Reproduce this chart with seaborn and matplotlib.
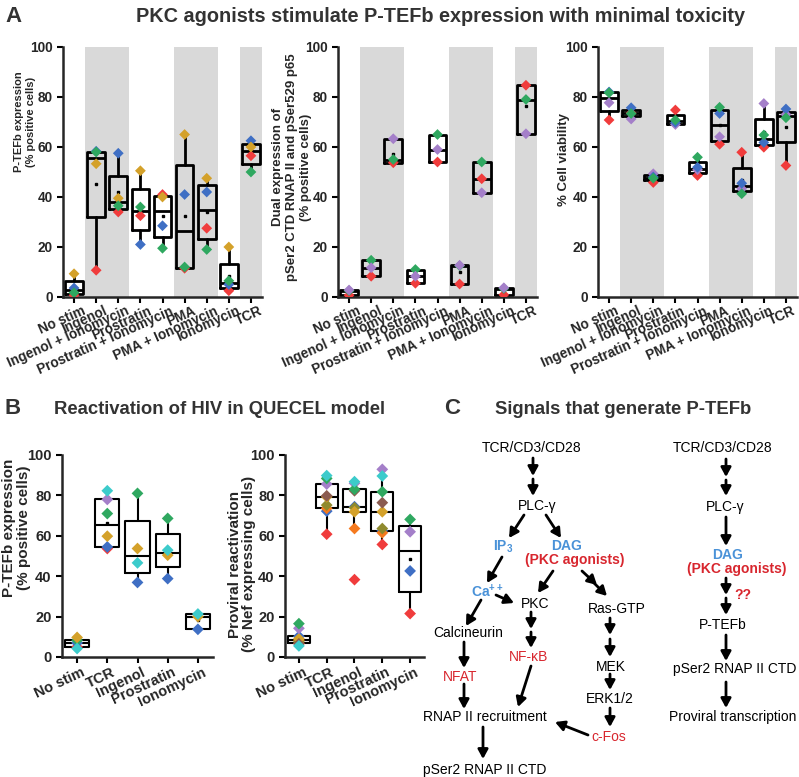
import numpy as np
import pandas as pd
import matplotlib
matplotlib.use("Agg")
import matplotlib.pyplot as plt
import matplotlib.transforms as mtransforms
import seaborn as sns

nan = np.nan

# ---------------- panel A: Jurkat / primary cell screens ----------------
stims_a = ['No stim', 'Ingenol', 'Ingenol + Ionomycin', 'Prostratin',
           'Prostratin + Ionomycin', 'PMA', 'PMA + Ionomycin', 'Ionomycin', 'TCR']

# P-TEFb expression (% positive cells)
ptefb_red = [0.7, 10.7, 34.0, 32.5, 41.0, 11.5, 27.5, 2.5, 56.5]
ptefb_blue = [3.6, 58.3, 57.5, 21.0, 28.5, 41.0, 42.0, 5.0, 62.5]
ptefb_gold = [9.3, 53.3, 39.5, 50.5, 40.0, 65.0, 47.5, 20.0, 60.0]
ptefb_green = [1.7, 58.0, 36.5, 36.0, 19.5, 12.0, 19.0, 6.5, 50.0]

# dual pSer2 CTD RNAP II / pSer529 p65 (% positive cells)
dual_red = [0.7, 8.3, 53.7, 5.5, 54.0, 5.2, 47.3, 0.9, 84.7]
dual_green = [2.5, 14.7, 55.0, 11.0, 65.0, 12.5, 54.0, 3.4, 79.0]
dual_purple = [2.8, 11.7, 63.3, 8.3, 59.0, 12.7, 41.7, 3.7, 65.3]

# % cell viability
via_red = [70.8, 73.6, 45.8, 74.8, 48.6, 61.1, 57.9, 59.9, 52.6]
via_purple = [77.7, 71.2, 49.3, 69.0, 50.9, 64.1, 43.3, 77.4, 73.0]
via_blue = [82.0, 75.7, 48.0, 69.8, 51.9, 73.4, 45.5, 61.8, 75.2]
via_green = [81.7, 73.4, 47.5, 70.8, 55.9, 75.9, 41.3, 64.8, 71.7]

# ---------------- panel B: QUECEL model ----------------
stims_b = ['No stim', 'TCR', 'Ingenol', 'Prostratin', 'Ionomycin']

qb_red = [5.0, 53.7, nan, nan, nan]
qb_blue = [7.0, 54.5, 36.9, 38.8, 13.7]
qb_green = [8.3, 71.0, 81.0, 68.6, nan]
qb_purple = [nan, 78.0, nan, nan, nan]
qb_gold = [9.7, 59.8, 53.7, 50.4, 20.0]
qb_cyan = [4.2, 82.3, 46.6, 52.9, 21.3]

prov_red = [6.8, 60.8, 38.3, 55.7, 21.5]
prov_blue = [10.2, 72.2, 74.4, 62.5, 42.6]
prov_orange = [8.3, 73.6, 63.6, 61.5, nan]
prov_olive = [7.5, 75.2, 73.9, 63.6, nan]
prov_gold = [9.0, 79.3, 71.9, 71.9, nan]
prov_brown = [6.5, 79.8, 82.3, 76.4, nan]
prov_purple = [14.2, 85.6, 86.0, 92.9, 62.0]
prov_green = [16.5, 88.4, 83.0, 81.8, 68.1]
prov_cyan = [5.5, 89.8, 86.8, 89.6, nan]

donor_cols = {'gold': '#d4a12a', 'blue': '#3f6fc4', 'green': '#2fa860',
              'red': '#f03c3c', 'purple': '#a47fc9', 'cyan': '#3ccbcb',
              'brown': '#8b5b4f', 'orange': '#f57a1f', 'olive': '#8f8a2e'}
shade_col = '#d9d9d9'
title_col = '#333333'
blue_txt = '#4a92d8'
red_txt = '#d8262e'


def long_df(stims, series):
    rows = []
    for donor, vals in series.items():
        for s, v in zip(stims, vals):
            rows.append((s, donor, v))
    return pd.DataFrame(rows, columns=['stim', 'donor', 'value']).dropna()


def box_stats(vals):
    s = np.sort(vals)
    n = len(s)
    h = n // 2
    if n % 4 == 1:
        lo, hi = s[:h + 1], s[h:]
    else:
        lo, hi = s[:h], s[n - h:]
    q1, med, q3 = np.median(lo), np.median(s), np.median(hi)
    iqr = q3 - q1
    return dict(med=med, q1=q1, q3=q3, mean=s.mean(), fliers=[],
                whislo=s[s >= q1 - 1.5 * iqr].min(),
                whishi=s[s <= q3 + 1.5 * iqr].max())


def box_strip(ax, df, stims, shade=(), box_w=0.8, lw=2.0, msize=5.5,
              tick_fs=9.8, rot=24, shift=7.5, xpad=1):
    for a, b in shade:
        ax.axvspan(a - 0.5, b + 0.5, color=shade_col, lw=0, zorder=0)
    stats = [box_stats(df.loc[df.stim == s, 'value'].to_numpy()) for s in stims]
    line = dict(color='black', lw=lw)
    ax.bxp(stats, positions=range(len(stims)), widths=box_w, showmeans=True,
           showcaps=False, showfliers=False, manage_ticks=False,
           boxprops=line, medianprops=line, whiskerprops=line,
           meanprops=dict(marker='s', markersize=1.6, markerfacecolor='black',
                          markeredgecolor='black'))
    sns.stripplot(data=df, x='stim', y='value', hue='donor', order=stims,
                  palette=donor_cols, marker='D', size=msize, jitter=False,
                  linewidth=0, legend=False, ax=ax, zorder=3)
    ax.set_xlim(-0.5, len(stims) - 0.5)
    ax.set_ylim(0, 100)
    ax.set_yticks([0, 20, 40, 60, 80, 100])
    ax.set_xlabel('')
    sns.despine(ax=ax)
    ax.spines['left'].set_linewidth(1.8)
    ax.spines['bottom'].set_linewidth(1.8)
    ax.tick_params(length=4, width=1.5, color='black')
    ax.tick_params(axis='x', pad=xpad)
    ax.set_xticks(range(len(stims)))
    ax.set_xticklabels(stims, rotation=rot, ha='right', rotation_mode='anchor',
                       fontweight='bold', fontsize=tick_fs)
    # the labels sit a little to the right of their ticks in the original
    off = mtransforms.ScaledTranslation(shift / 100, 0, ax.figure.dpi_scale_trans)
    for t in ax.get_xticklabels():
        t.set_transform(t.get_transform() + off)
    for t in ax.get_yticklabels():
        t.set_fontweight('bold')
        t.set_fontsize(tick_fs)
    ax.patch.set_alpha(0)


sns.set_style('ticks')
plt.rcParams['font.family'] = ['Liberation Sans', 'DejaVu Sans']
plt.rcParams['mathtext.fontset'] = 'custom'
plt.rcParams['mathtext.rm'] = 'Liberation Sans'
plt.rcParams['mathtext.default'] = 'regular'

fig = plt.figure(figsize=(7.99, 7.77), dpi=100)
W, H = 799, 777

# overlay in pixel coordinates for titles and the pathway diagram
ov = fig.add_axes([0, 0, 1, 1])
ov.set_xlim(0, W)
ov.set_ylim(H, 0)
ov.axis('off')


def px_axes(x0, y0, x1, y1):
    return fig.add_axes([x0 / W, 1 - y1 / H, (x1 - x0) / W, (y1 - y0) / H])


# ---------------- panel A ----------------
shade_a = [(1, 2), (5, 6), (8, 8)]
ax1 = px_axes(63, 47, 262, 297)
box_strip(ax1, long_df(stims_a, {'red': ptefb_red, 'blue': ptefb_blue,
                                 'gold': ptefb_gold, 'green': ptefb_green}),
          stims_a, shade_a)
ax1.set_ylabel('P-TEFb expression\n(% positive cells)', fontsize=8,
               fontweight='bold', va='center')
ax1.yaxis.set_label_coords(-0.19, 0.70)

ax2 = px_axes(338, 47, 537, 297)
box_strip(ax2, long_df(stims_a, {'red': dual_red, 'green': dual_green,
                                 'purple': dual_purple}),
          stims_a, shade_a)
ax2.set_ylabel('Dual expression of\npSer2 CTD RNAP II and pSer529 p65\n(% positive cells)',
               fontsize=9.5, fontweight='bold', va='center')
ax2.yaxis.set_label_coords(-0.23, 0.52)

ax3 = px_axes(598, 47, 797, 297)
box_strip(ax3, long_df(stims_a, {'red': via_red, 'purple': via_purple,
                                 'blue': via_blue, 'green': via_green}),
          stims_a, shade_a, shift=6)
ax3.set_ylabel('% Cell viability', fontsize=9.5, fontweight='bold', va='center')
ax3.yaxis.set_label_coords(-0.17, 0.55)

# ---------------- panel B ----------------
ax4 = px_axes(62, 455, 213, 657)
box_strip(ax4, long_df(stims_b, {'red': qb_red, 'blue': qb_blue, 'green': qb_green,
                                 'purple': qb_purple, 'gold': qb_gold, 'cyan': qb_cyan}),
          stims_b, lw=1.5, msize=6, tick_fs=10.5, rot=25, shift=4, xpad=2)
ax4.set_ylabel('P-TEFb expression\n(% positive cells)', fontsize=11,
               fontweight='bold', va='center', linespacing=1.05)
ax4.yaxis.set_label_coords(-0.30, 0.64)

ax5 = px_axes(285, 455, 424, 657)
box_strip(ax5, long_df(stims_b, {'red': prov_red, 'blue': prov_blue,
                                 'orange': prov_orange, 'olive': prov_olive,
                                 'gold': prov_gold, 'brown': prov_brown,
                                 'purple': prov_purple, 'green': prov_green,
                                 'cyan': prov_cyan}),
          stims_b, lw=1.5, msize=6, tick_fs=10.5, rot=25, shift=4, xpad=2)
ax5.set_ylabel('Proviral reactivation\n(% Nef expressing cells)', fontsize=11,
               fontweight='bold', va='center', linespacing=1.05)
ax5.yaxis.set_label_coords(-0.31, 0.46)

# ---------------- titles ----------------
ov.text(5, 16, 'A', fontsize=16, fontweight='bold', color=title_col, va='center')
ov.text(441, 16, 'PKC agonists stimulate P-TEFb expression with minimal toxicity',
        fontsize=14.3, fontweight='bold', color=title_col, ha='center', va='center')
ov.text(5, 408, 'B', fontsize=16, fontweight='bold', color=title_col, va='center')
ov.text(219, 409, 'Reactivation of HIV in QUECEL model', fontsize=13.3,
        fontweight='bold', color=title_col, ha='center', va='center')
ov.text(444, 408, 'C', fontsize=16, fontweight='bold', color=title_col, va='center')
ov.text(623, 409, 'Signals that generate P-TEFb', fontsize=13.3,
        fontweight='bold', color=title_col, ha='center', va='center')


# ---------------- panel C: signalling diagram ----------------
def node(x, y, s, color='black', weight='normal', size=10):
    ov.text(x, y, s, color=color, fontweight=weight, fontsize=size,
            ha='center', va='center')


def arrow(x1, y1, x2, y2):
    ov.annotate('', xy=(x2, y2), xytext=(x1, y1),
                arrowprops=dict(arrowstyle='-|>,head_length=0.55,head_width=0.3',
                                color='black', lw=2, shrinkA=0, shrinkB=0))


node(532, 448, 'TCR/CD3/CD28')
arrow(533, 458, 533, 476)
arrow(533, 479, 533, 496)
node(537, 506, 'PLC-γ')
arrow(524, 515, 509, 538)
arrow(546, 515, 561, 538)
node(503, 547, 'IP$_3$', color=blue_txt, weight='bold')
node(567, 546, 'DAG', color=blue_txt, weight='bold')
node(575, 560, '(PKC agonists)', color=red_txt, weight='bold')
arrow(502, 557, 487, 583)
node(487, 592, 'Ca$^{++}$', color=blue_txt, weight='bold')
arrow(496, 595, 514, 603)
arrow(553, 571, 538, 593)
arrow(582, 571, 597, 585)
arrow(590, 579, 607, 596)
node(535, 604, 'PKC')
node(617, 609, 'Ras-GTP')
arrow(481, 600, 466, 626)
node(468, 633, 'Calcineurin')
arrow(531, 612, 531, 629)
arrow(531, 632, 531, 648)
node(529, 657, 'NF-κB', color=red_txt)
arrow(464, 642, 464, 668)
node(460, 677, 'NFAT', color=red_txt)
arrow(610, 618, 610, 635)
arrow(610, 639, 610, 657)
node(611, 667, 'MEK')
arrow(610, 674, 610, 690)
node(610, 699, 'ERK1/2')
arrow(610, 708, 610, 727)
node(609, 737, 'c-Fos', color=red_txt)
arrow(464, 684, 464, 709)
arrow(531, 666, 518, 707)
arrow(588, 735, 555, 722)
node(485, 717, 'RNAP II recruitment')
arrow(483, 727, 483, 759)
node(485, 770, 'pSer2 RNAP II CTD')

node(723, 448, 'TCR/CD3/CD28')
arrow(726, 459, 726, 477)
arrow(726, 480, 726, 496)
node(725, 507, 'PLC-γ')
arrow(726, 517, 726, 546)
node(728, 555, 'DAG', color=blue_txt, weight='bold')
node(737, 569, '(PKC agonists)', color=red_txt, weight='bold')
arrow(726, 578, 726, 595)
arrow(726, 598, 726, 615)
node(743, 595, '??', color=red_txt, weight='bold')
node(723, 625, 'P-TEFb')
arrow(726, 635, 726, 661)
node(735, 669, 'pSer2 RNAP II CTD')
arrow(726, 682, 726, 708)
node(733, 717, 'Proviral transcription')

fig.savefig('out.png', dpi=100)
